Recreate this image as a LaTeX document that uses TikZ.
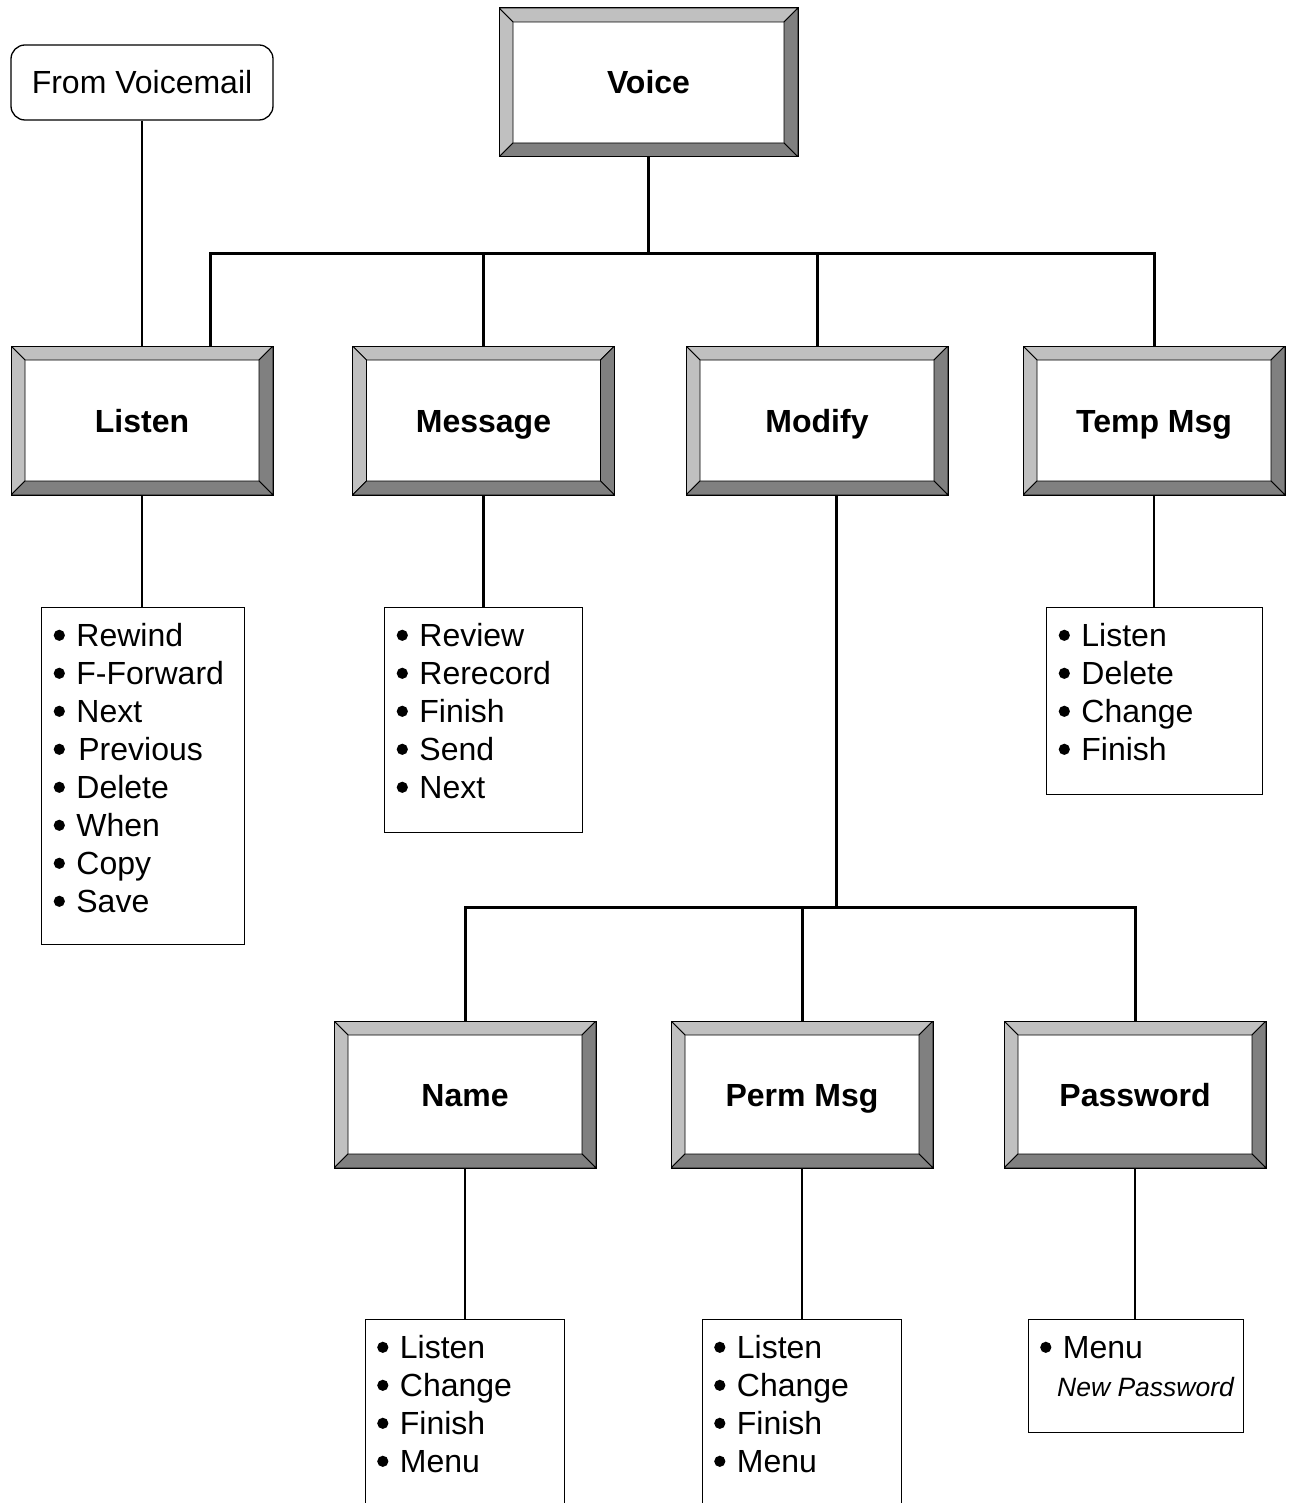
\documentclass[tikz,border=0pt]{standalone}
\usepackage{fontspec}
\setmainfont{Liberation Sans}
\definecolor{bevlight}{HTML}{C0C0C0}
\definecolor{bevdark}{HTML}{808080}
% list bullet: a filled dot centred on the cap height, then the gap to the word
\newcommand{\itm}{\tikz[x=1pt,y=1pt,baseline=0pt]\fill[black] (5.5,11.5) circle (5.6);\hspace{11.5pt}}
\begin{document}
\begin{tikzpicture}[x=1pt,y=-1pt,
  bevel/.style={draw=black, line width=1pt, fill=white, inner sep=0pt,
    minimum width=262pt, minimum height=149pt,
    text height=23pt, text depth=0pt,
    font=\bfseries\fontsize{32}{38}\selectfont,
    path picture={
      \path (path picture bounding box.north west) coordinate (o1)
            (path picture bounding box.south east) coordinate (o2);
      \path ([shift={(14pt,-14pt)}]o1) coordinate (i1)
            ([shift={(-14pt,14pt)}]o2) coordinate (i2);
      \filldraw[fill=bevlight, draw=black, line width=0.8pt, line join=miter]
        (o1) -- (o1 -| o2) -- (i1 -| i2) -- (i1) -- cycle;
      \filldraw[fill=bevlight, draw=black, line width=0.8pt, line join=miter]
        (o1) -- (i1) -- (i1 |- i2) -- (o1 |- o2) -- cycle;
      \filldraw[fill=bevdark, draw=black, line width=0.8pt, line join=miter]
        (o1 -| o2) -- (o2) -- (i2) -- (i1 -| i2) -- cycle;
      \filldraw[fill=bevdark, draw=black, line width=0.8pt, line join=miter]
        (o1 |- o2) -- (o2) -- (i2) -- (i1 |- i2) -- cycle;
    }},
  startbox/.style={draw=black, line width=1.3pt, rounded corners=14pt,
    minimum width=262pt, minimum height=75pt, inner sep=0pt,
    text height=23pt, text depth=0pt,
    font=\fontsize{32}{38}\selectfont},
  listbox/.style={draw=black, line width=1.4pt, anchor=north west, inner sep=0pt},
  listtext/.style={anchor=north west, inner sep=0pt, align=left,
    font=\fontsize{32}{38}\selectfont},
  link/.style={line width=3pt},
  droplink/.style={line width=2.6pt},
  thinlink/.style={line width=1.7pt}
]
\useasboundingbox (0,0) rectangle (1292,1503);
\clip (0,0) rectangle (1292,1503);
\fill[white] (0,0) rectangle (1292,1503);

% entry point and top level
\node[startbox] (from) at (142,82.5) {From Voicemail};
\node[bevel, minimum width=299pt] (voice) at (648.5,82.5) {Voice};

% first level menus
\node[bevel] (listen)  at (142,420.5)   {Listen};
\node[bevel] (message) at (483.5,420.5) {Message};
\node[bevel] (modify)  at (817,420.5)   {Modify};
\node[bevel] (temp)    at (1154,420.5)  {Temp Msg};

% second level menus under Modify
\node[bevel, minimum height=147pt] (name) at (465,1094.5)  {Name};
\node[bevel, minimum height=147pt] (perm) at (802,1094.5)  {Perm Msg};
\node[bevel, minimum height=147pt] (pass) at (1135,1094.5) {Password};

% option lists
\node[listbox, minimum width=203pt, minimum height=337pt] (llist) at (41,607) {};
\node[listtext] (llist-t) at ([shift={(12.5pt,-13pt)}]llist.north west)
  {\strut\itm Rewind\\ \strut\itm F-Forward\\ \strut\itm Next\\ \strut\itm\kern2pt Previous\\
   \strut\itm Delete\\ \strut\itm When\\ \strut\itm Copy\\ \strut\itm Save};

\node[listbox, minimum width=198pt, minimum height=225pt] (mlist) at (384,607) {};
\node[listtext] (mlist-t) at ([shift={(12.5pt,-13pt)}]mlist.north west)
  {\strut\itm Review\\ \strut\itm Rerecord\\ \strut\itm Finish\\ \strut\itm Send\\ \strut\itm Next};

\node[listbox, minimum width=216pt, minimum height=187pt] (tlist) at (1046,607) {};
\node[listtext] (tlist-t) at ([shift={(12.5pt,-13pt)}]tlist.north west)
  {\strut\itm Listen\\ \strut\itm Delete\\ \strut\itm Change\\ \strut\itm Finish};

\node[listbox, minimum width=199pt, minimum height=260pt] (nlist) at (365,1319) {};
\node[listtext] (nlist-t) at ([shift={(12pt,-13pt)}]nlist.north west)
  {\strut\itm Listen\\ \strut\itm Change\\ \strut\itm Finish\\ \strut\itm Menu};

\node[listbox, minimum width=199pt, minimum height=260pt] (plist) at (702,1319) {};
\node[listtext] (plist-t) at ([shift={(12pt,-13pt)}]plist.north west)
  {\strut\itm Listen\\ \strut\itm Change\\ \strut\itm Finish\\ \strut\itm Menu};

\node[listbox, minimum width=215pt, minimum height=113pt] (wlist) at (1028,1319) {};
\node[listtext] (wlist-t) at ([shift={(12pt,-13pt)}]wlist.north west)
  {\strut\itm Menu\\ \strut\kern17pt{\itshape\fontsize{26.5}{38}\selectfont New Password}};

% junction points of the connector buses
\coordinate (bus1) at (648.5,254);
\coordinate (ljoin) at (210,254);
\coordinate (mjoin) at (836,907);

% connectors
\draw[thinlink] (from.south) -- (listen.north);
\draw[link] (voice.south) -- (bus1);
\draw[link] (ljoin |- listen.north) -- (ljoin) -- (temp.north |- ljoin) -- (temp.north);
\draw[link] (message.north) -- (message.north |- ljoin);
\draw[link] (modify.north) -- (modify.north |- ljoin);

\draw[link] (modify.south -| mjoin) -- (mjoin);
\draw[link] (name.north) -- (name.north |- mjoin) -- (pass.north |- mjoin) -- (pass.north);
\draw[link] (perm.north) -- (perm.north |- mjoin);

\draw[droplink] (listen.south) -- (listen.south |- llist.north);
\draw[droplink] (message.south) -- (message.south |- mlist.north);
\draw[droplink] (temp.south) -- (temp.south |- tlist.north);
\draw[droplink] (name.south) -- (name.south |- nlist.north);
\draw[droplink] (perm.south) -- (perm.south |- plist.north);
\draw[droplink] (pass.south) -- (pass.south |- wlist.north);
\end{tikzpicture}
\end{document}
